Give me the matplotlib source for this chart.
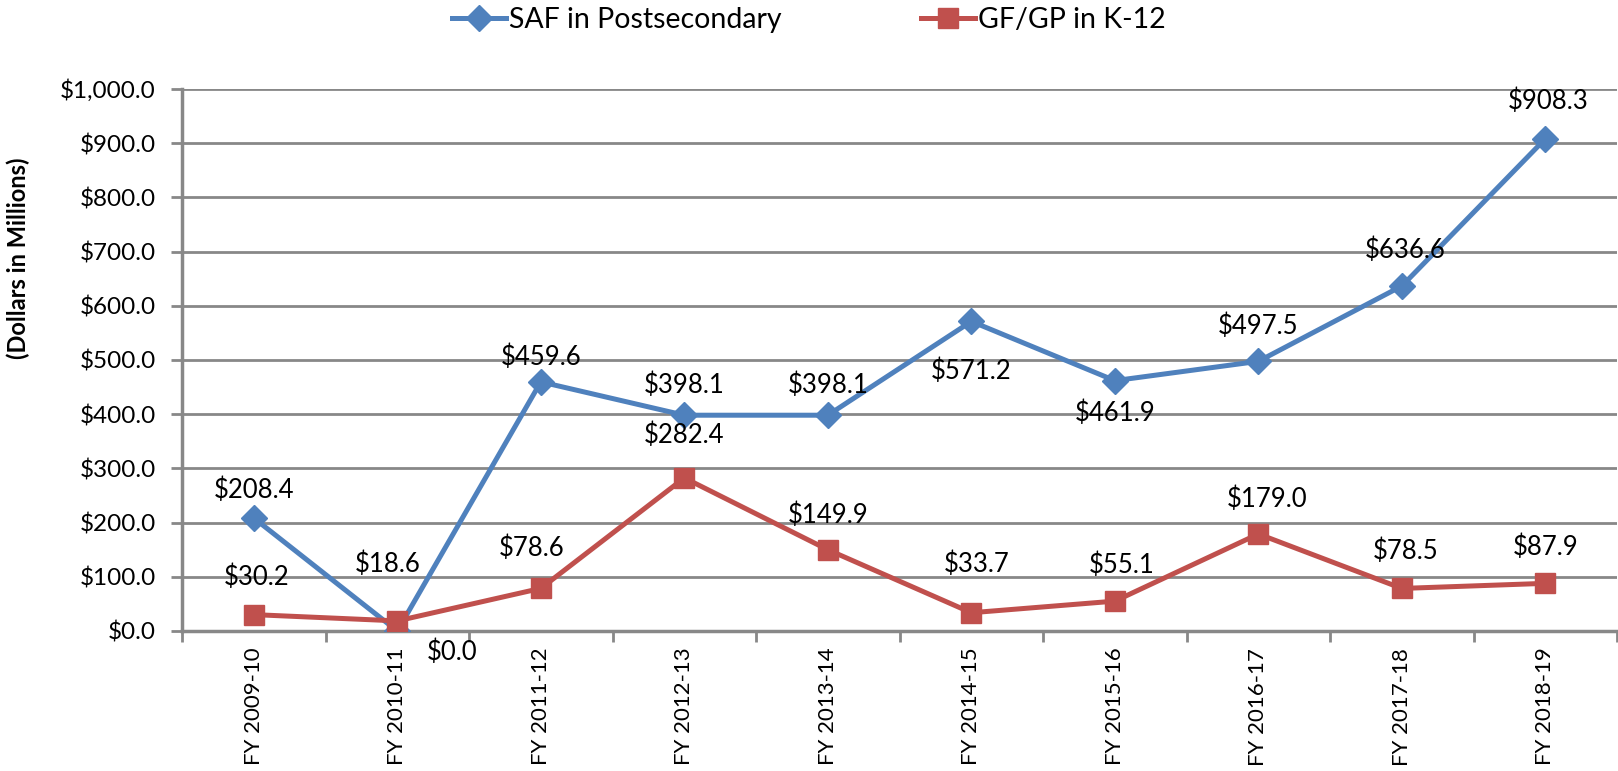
import matplotlib
matplotlib.use("Agg")
import matplotlib.pyplot as plt

plt.rcParams['font.family'] = ['Lato', 'DejaVu Sans']

years = ['FY 2009-10', 'FY 2010-11', 'FY 2011-12', 'FY 2012-13', 'FY 2013-14',
         'FY 2014-15', 'FY 2015-16', 'FY 2016-17', 'FY 2017-18', 'FY 2018-19']
saf = [208.4, 0.0, 459.6, 398.1, 398.1, 571.2, 461.9, 497.5, 636.6, 908.3]
gfgp = [30.2, 18.6, 78.6, 282.4, 149.9, 33.7, 55.1, 179.0, 78.5, 87.9]

# label offsets in pixels (dx, dy up)
saf_off = [(0, 28), (55, -21), (0, 25), (0, 30), (0, 30),
           (0, -50), (0, -33), (0, 35), (3, 36), (3, 37)]
gf_off = [(3, 37), (-10, 57), (-9, 40), (0, 43), (0, 34),
          (5, 48), (7, 36), (9, 35), (4, 37), (0, 36)]

blue = '#4F81BD'
red = '#C0504D'
grey = '#888888'

fig = plt.figure(figsize=(16.18, 7.71), dpi=100)
ax = fig.add_axes([0.1125, 0.1816, 0.887, 0.703])

x = list(range(len(years)))
ax.plot(x, saf, color=blue, lw=3.6, marker='D', ms=13.5, label='SAF in Postsecondary', zorder=3)
ax.plot(x, gfgp, color=red, lw=3.6, marker='s', ms=14.5, label='GF/GP in K-12', zorder=4)

px = 0.72
for i, v in enumerate(saf):
    dx, dy = saf_off[i]
    ax.annotate('${:,.1f}'.format(v), (i, v), xytext=(dx * px, dy * px), textcoords='offset points',
                ha='center', va='center', fontsize=18.5, color='black', zorder=5)
for i, v in enumerate(gfgp):
    dx, dy = gf_off[i]
    ax.annotate('${:,.1f}'.format(v), (i, v), xytext=(dx * px, dy * px), textcoords='offset points',
                ha='center', va='center', fontsize=18.5, color='black', zorder=5)

ax.set_xlim(-0.5, len(years) - 0.5)
ax.set_ylim(0, 1000)
ax.set_yticks(range(0, 1001, 100))
ax.set_yticklabels(['${:,.1f}'.format(v) for v in range(0, 1001, 100)], fontsize=17.5)
ax.set_xticks([i - 0.5 for i in range(len(years) + 1)])
ax.set_xticklabels([])
ax.set_xticks(x, minor=True)
ax.set_xticklabels(years, minor=True, rotation=90, fontsize=16)
ax.tick_params(axis='x', which='minor', length=0, pad=12)
ax.tick_params(axis='x', which='major', length=8, width=2, color=grey, direction='out')
ax.tick_params(axis='y', length=8, width=2, color=grey, direction='out', pad=11)

ax.grid(axis='y', color=grey, lw=2)
ax.set_axisbelow(True)
for s in ['top', 'right']:
    ax.spines[s].set_visible(False)
for s in ['left', 'bottom']:
    ax.spines[s].set_color(grey)
    ax.spines[s].set_linewidth(2.5)
ax.spines['bottom'].set_zorder(2.5)

fig.text(0.011, 1 - 258 / 771, '(Dollars in Millions)', rotation=90, fontsize=17,
         fontweight='bold', ha='center', va='center')

fig.legend(loc='center', bbox_to_anchor=(0.5, 1 - 20 / 771), ncol=2, frameon=False,
           fontsize=20.5, handlelength=1.9, handletextpad=0.1, columnspacing=4.9)

fig.savefig('out.png', dpi=100)
